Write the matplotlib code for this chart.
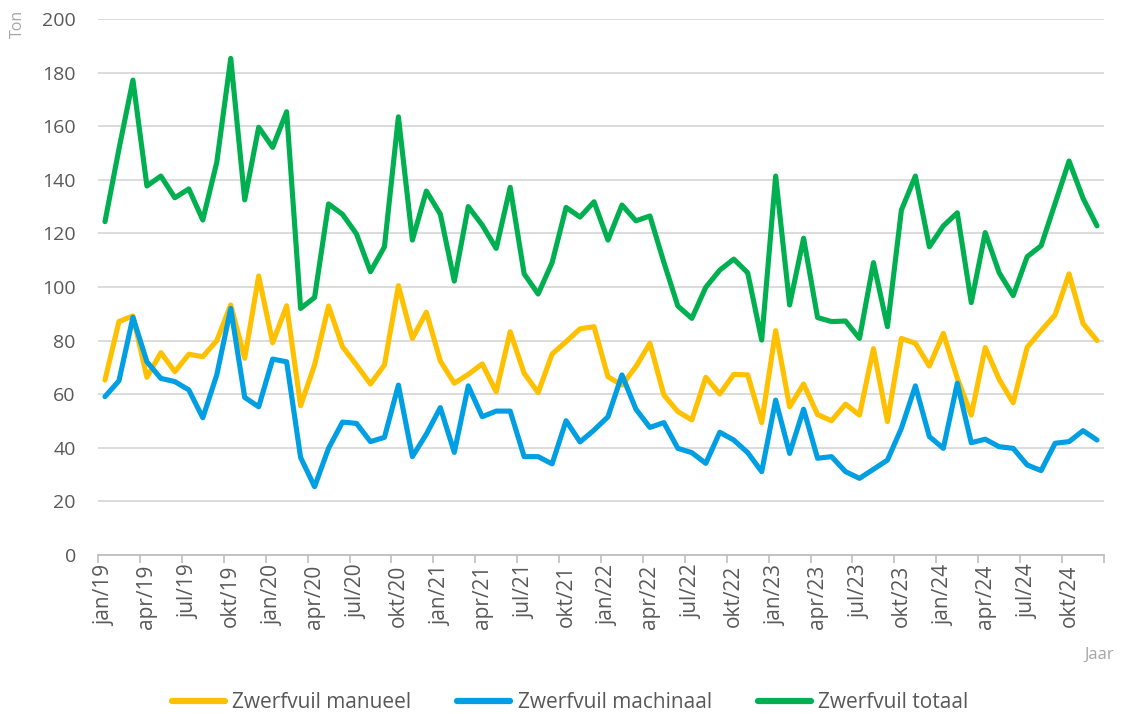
import matplotlib
matplotlib.use("Agg")
import matplotlib.pyplot as plt
import numpy as np

months = ["jan", "feb", "mrt", "apr", "mei", "jun", "jul", "aug", "sep", "okt", "nov", "dec"]
years = ["19", "20", "21", "22", "23", "24"]
categories = [f"{m}/{y}" for y in years for m in months]

manueel = [65.3, 87.1, 89.2, 66.3, 75.5, 68.4, 74.9, 74.0, 80.0, 93.3, 73.4, 104.1,
           79.2, 93.0, 55.7, 70.9, 92.9, 77.7, 70.9, 63.8, 70.9, 100.5, 80.8, 90.6,
           72.4, 64.1, 67.4, 71.3, 60.9, 83.3, 67.8, 60.6, 75.0, 79.6, 84.4, 85.2,
           66.5, 63.4, 70.3, 79.0, 59.7, 53.5, 50.4, 66.3, 60.1, 67.4, 67.2, 49.4,
           83.7, 55.3, 63.8, 52.4, 50.1, 56.3, 52.2, 77.0, 49.8, 80.8, 79.0, 70.5,
           82.7, 66.0, 52.2, 77.4, 65.5, 56.8, 77.5, 83.7, 89.6, 104.9, 86.4, 80.0]

machinaal = [59.1, 65.0, 88.7, 72.1, 65.9, 64.7, 61.6, 51.2, 67.2, 92.0, 58.8, 55.3,
             73.1, 72.1, 36.4, 25.5, 39.8, 49.6, 49.1, 42.3, 43.9, 63.4, 36.7, 45.1,
             55.0, 38.3, 63.1, 51.6, 53.7, 53.7, 36.7, 36.7, 34.0, 50.1, 42.2, 46.6,
             51.6, 67.2, 54.4, 47.6, 49.4, 39.8, 38.2, 34.2, 45.8, 42.9, 38.2, 31.1,
             57.8, 37.9, 54.4, 36.1, 36.7, 31.1, 28.6, 32.0, 35.4, 47.3, 63.1, 44.2,
             39.8, 64.1, 41.9, 43.2, 40.4, 39.8, 33.6, 31.5, 41.7, 42.3, 46.4, 42.9]

totaal = [124.4, 151.5, 177.2, 137.7, 141.4, 133.3, 136.6, 125.0, 146.5, 185.3, 132.5, 159.6,
          152.1, 165.4, 92.0, 96.1, 131.0, 127.1, 119.8, 105.7, 115.0, 163.5, 117.5, 135.8,
          127.2, 102.2, 130.0, 123.1, 114.4, 137.2, 104.9, 97.4, 109.1, 129.7, 126.1, 131.8,
          117.5, 130.6, 124.7, 126.5, 109.2, 92.9, 88.3, 99.9, 106.3, 110.4, 105.3, 80.2,
          141.4, 93.3, 118.2, 88.6, 87.1, 87.3, 80.8, 109.1, 85.2, 128.7, 141.4, 115.0,
          122.8, 127.7, 94.2, 120.3, 105.3, 96.8, 111.3, 115.4, 131.2, 147.0, 133.1, 122.8]

series_names = ["Zwerfvuil manueel", "Zwerfvuil machinaal", "Zwerfvuil totaal"]
colors = ["#FFC000", "#009FE3", "#00B050"]

plt.rcParams['font.family'] = ['Open Sans', 'DejaVu Sans']

fig = plt.figure(figsize=(11.25, 7.14), dpi=100)
ax = fig.add_axes([98/1125, 1 - 555/714, (1104 - 98)/1125, (555 - 19)/714])

x = np.arange(len(categories))
for data, name, c in zip([manueel, machinaal, totaal], series_names, colors):
    ax.plot(x, data, color=c, lw=3.7, label=name, solid_joinstyle='round', solid_capstyle='round', zorder=3)

ax.set_ylim(0, 200)
ax.set_xlim(-0.5, len(categories) - 0.5)
ax.set_yticks(np.arange(0, 201, 20))
ax.yaxis.grid(True, color="#d9d9d9", lw=1.3, zorder=0)
ax.tick_params(axis='y', length=0, labelsize=14, labelcolor="#595959", pad=16)

label_idx = x[::3]
ax.set_xticks(label_idx)
ax.set_xticklabels([categories[i] for i in label_idx], rotation=90, fontsize=15, color="#595959")
ax.tick_params(axis='x', length=0, pad=7)
ax.set_xticks(np.arange(-0.5, len(categories), 3), minor=True)
ax.tick_params(axis='x', which='minor', length=6, color="#bfbfbf", width=1.2)

for s in ['top', 'right', 'left']:
    ax.spines[s].set_visible(False)
ax.spines['bottom'].set_color("#bfbfbf")
ax.spines['bottom'].set_linewidth(1.3)

fig.text(18/1125, 1 - 24/714, "Ton", rotation=90, ha='center', va='center', fontsize=11.5, color="#a6a6a6")
fig.text(1099/1125, 1 - 655/714, "Jaar", ha='center', va='center', fontsize=12, color="#a6a6a6")

leg = fig.legend(loc='center', bbox_to_anchor=(570/1125, 1 - 703/714), ncol=3, frameon=False,
                 fontsize=15, handlelength=2.55, columnspacing=2.2, labelcolor="#595959", handletextpad=0.35)
for h in leg.get_lines():
    h.set_linewidth(4.5)

fig.savefig("out.png", dpi=100, facecolor="white")
